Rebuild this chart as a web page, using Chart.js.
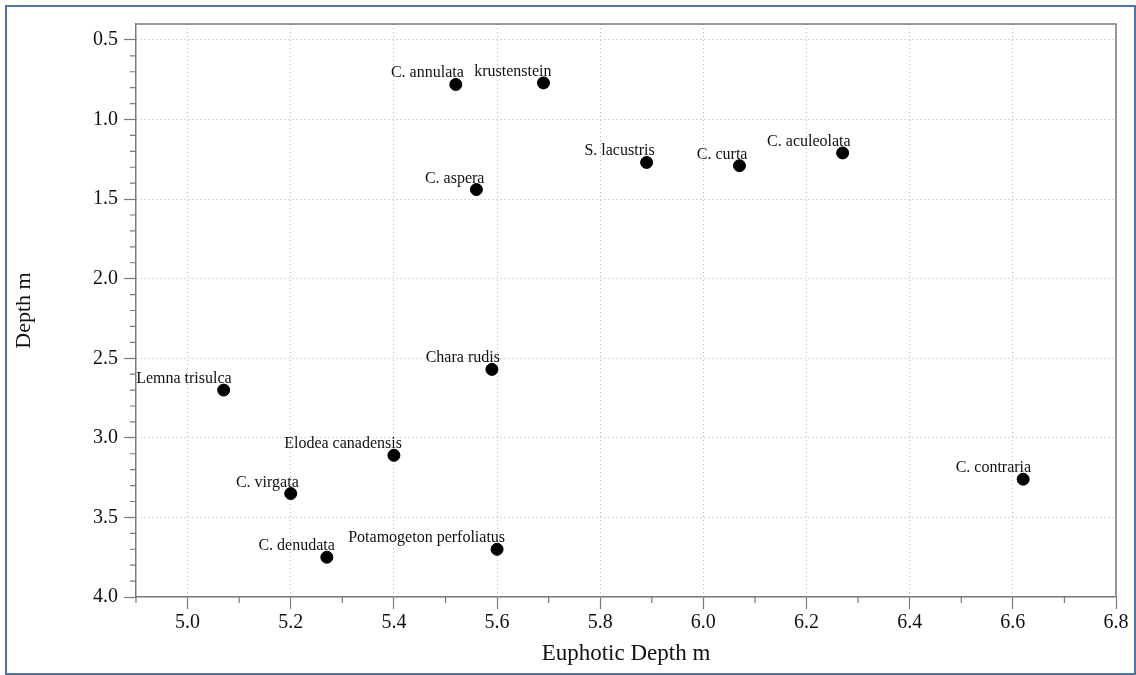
<!DOCTYPE html>
<html>
<head>
<meta charset="utf-8">
<script src="https://cdn.jsdelivr.net/npm/chart.js@4.4.1/dist/chart.umd.min.js"></script>
<style>
  html,body{margin:0;padding:0;background:#fff;}
  #wrap{position:relative;width:1136px;height:675px;}
  #frame{position:absolute;left:5px;top:5px;width:1127px;height:666px;border:2px solid #4f74a6;pointer-events:none;}
</style>
</head>
<body>
<div id="wrap">
  <canvas id="c" width="1136" height="675"></canvas>
  <div id="frame"></div>
</div>
<script>
// species, euphotic depth (x) and depth (y)
const species = ["C. annulata","krustenstein","C. aspera","S. lacustris","C. curta","C. aculeolata","Chara rudis","Lemna trisulca","Elodea canadensis","C. virgata","C. denudata","Potamogeton perfoliatus","C. contraria"];
const euphotic = [5.52, 5.69, 5.56, 5.89, 6.07, 6.27, 5.59, 5.07, 5.40, 5.20, 5.27, 5.60, 6.62];
const depth    = [0.78, 0.77, 1.44, 1.27, 1.29, 1.21, 2.57, 2.70, 3.11, 3.35, 3.75, 3.70, 3.26];

const xRange = [4.9, 6.8], xMajor = 0.2;
const yRange = [0.4, 4.0], yMajor = 0.5;

const SERIF = "'Liberation Serif','DejaVu Serif',serif";
const isMajor = (v, step) => Math.abs(v / step - Math.round(v / step)) < 1e-6;

// point labels, right-aligned just above-left of each dot
const pointLabels = {
  id: "pointLabels",
  afterDatasetsDraw(chart) {
    const ctx = chart.ctx, meta = chart.getDatasetMeta(0);
    ctx.save();
    ctx.font = "16px " + SERIF;
    ctx.fillStyle = "#111";
    ctx.textAlign = "right";
    ctx.textBaseline = "alphabetic";
    meta.data.forEach((el, i) => ctx.fillText(species[i], el.x + 8, el.y - 7));
    ctx.restore();
  }
};

// short minor ticks + top/right frame of the plot
const frameAndMinor = {
  id: "frameAndMinor",
  afterDraw(chart) {
    const { ctx, chartArea: a, scales: { x, y } } = chart;
    ctx.save();
    ctx.strokeStyle = "#7a7a7a";
    ctx.lineWidth = 1.5;
    ctx.beginPath();
    ctx.moveTo(a.left, a.top); ctx.lineTo(a.right, a.top); ctx.lineTo(a.right, a.bottom);
    ctx.stroke();
    ctx.lineWidth = 1.2;
    ctx.beginPath();
    x.ticks.forEach(t => {
      if (isMajor(t.value, xMajor)) return;
      const px = x.getPixelForValue(t.value);
      ctx.moveTo(px, a.bottom); ctx.lineTo(px, a.bottom + 6);
    });
    y.ticks.forEach(t => {
      if (isMajor(t.value, yMajor) || t.value < yRange[0] + 1e-6) return;
      const py = y.getPixelForValue(t.value);
      ctx.moveTo(a.left, py); ctx.lineTo(a.left - 6, py);
    });
    ctx.stroke();
    ctx.restore();
  }
};

const gridColor = (step) => c => (c.tick && isMajor(c.tick.value, step)) ? "#b4b4b4" : "rgba(0,0,0,0)";
const tickColor = (step) => c => (c.tick && isMajor(c.tick.value, step)) ? "#7a7a7a" : "rgba(0,0,0,0)";

new Chart(document.getElementById("c"), {
  type: "scatter",
  data: {
    datasets: [{
      data: euphotic.map((v, i) => ({ x: v, y: depth[i] })),
      backgroundColor: "#000",
      borderColor: "#000",
      pointRadius: 6,
      pointHoverRadius: 6
    }]
  },
  options: {
    responsive: false,
    animation: false,
    events: [],
    layout: { padding: { top: 24, right: 20, left: 8, bottom: 0 } },
    plugins: { legend: { display: false }, tooltip: { enabled: false } },
    scales: {
      x: {
        type: "linear",
        min: xRange[0], max: xRange[1],
        afterFit: s => { s.height = 78; },
        ticks: {
          stepSize: 0.1,
          color: "#111",
          font: { family: SERIF, size: 20 },
          padding: 2,
          maxRotation: 0,
          autoSkip: false,
          callback: v => isMajor(v, xMajor) ? v.toFixed(1) : ""
        },
        grid: { color: gridColor(xMajor), tickColor: tickColor(xMajor), tickLength: 12, lineWidth: 1, tickWidth: 1.2, tickBorderDash: [] },
        border: { display: true, color: "#7a7a7a", width: 1.5, dash: [1, 3] },
        title: { display: true, text: "Euphotic Depth m", color: "#111", font: { family: SERIF, size: 23 }, padding: { top: 2, bottom: 7 } }
      },
      y: {
        type: "linear",
        reverse: true,
        min: yRange[0], max: yRange[1],
        afterFit: s => { s.width = 128; },
        ticks: {
          stepSize: 0.1,
          color: "#111",
          font: { family: SERIF, size: 20 },
          padding: 6,
          autoSkip: false,
          callback: v => isMajor(v, yMajor) ? v.toFixed(1) : ""
        },
        grid: { color: gridColor(yMajor), tickColor: tickColor(yMajor), tickLength: 12, lineWidth: 1, tickWidth: 1.2, tickBorderDash: [] },
        border: { display: true, color: "#7a7a7a", width: 1.5, dash: [1, 3] },
        title: { display: true, text: "Depth m", color: "#111", font: { family: SERIF, size: 22 }, padding: { top: 3, bottom: 4 } }
      }
    }
  },
  plugins: [pointLabels, frameAndMinor]
});
</script>
</body>
</html>
